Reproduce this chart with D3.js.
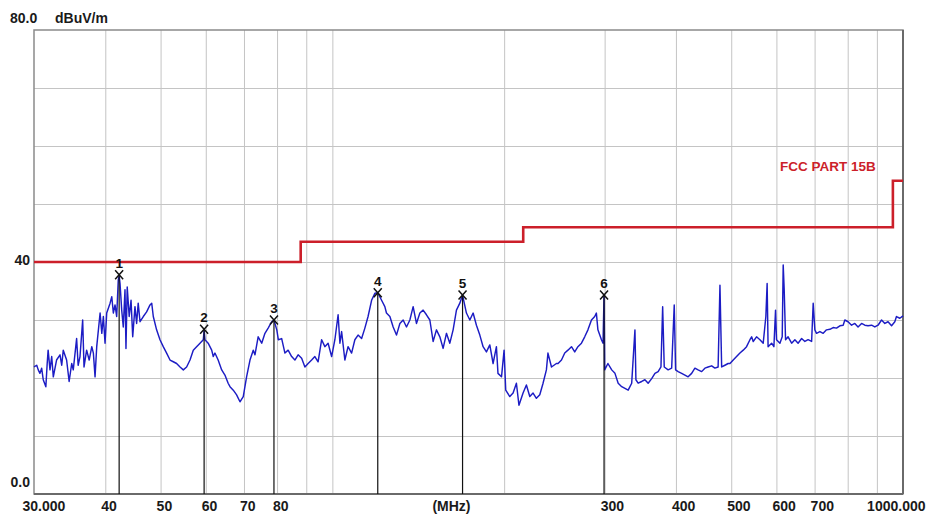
<!DOCTYPE html>
<html><head><meta charset="utf-8">
<script src="https://cdn.jsdelivr.net/npm/d3@7"></script>
<style>
html,body{margin:0;padding:0;background:#fff;}
svg{display:block;}
text{font-family:"Liberation Sans",Arial,sans-serif;font-weight:bold;}
</style></head><body>
<svg id="c" width="928" height="515"></svg>
<script>
// ---- data (frequency MHz, level dBuV/m) ----
const trace30to60 = [[30.0,21.9],[30.33,22.2],[30.52,21.4],[30.73,20.8],[30.94,21.7],[31.14,19.7],[31.47,18.5],[31.64,22.5],[31.76,24.8],[32.0,21.4],[32.22,23.7],[32.43,20.2],[32.86,23.1],[33.32,24.0],[33.55,22.2],[33.76,24.8],[34.22,23.1],[34.57,19.4],[34.93,22.5],[35.15,21.4],[35.63,26.8],[35.85,22.2],[36.12,23.7],[36.51,30.0],[36.71,21.9],[37.10,24.8],[37.48,23.1],[37.88,25.4],[38.12,24.3],[38.38,20.2],[38.64,25.4],[39.17,31.2],[39.44,27.7],[39.69,30.6],[39.96,26.0],[40.23,31.2],[40.78,32.9],[41.06,34.0],[41.32,31.2],[41.60,32.6],[41.88,30.6],[42.15,36.9],[42.3,37.6],[42.45,36.3],[42.74,31.7],[43.01,28.8],[43.31,35.2],[43.48,25.1],[43.70,35.7],[44.05,30.6],[44.38,33.4],[44.68,27.1],[45.09,32.3],[45.39,29.4],[45.68,32.9],[46.02,29.7],[46.63,30.6],[47.26,31.4],[47.91,32.6],[48.24,32.9],[48.55,30.6],[49.20,28.3],[49.88,26.6],[50.54,25.4],[51.23,24.3],[51.94,23.1],[52.63,22.8],[53.34,22.5],[54.08,21.9],[54.80,21.4],[55.54,21.9],[56.30,23.1],[57.05,24.8],[57.82,25.4],[58.62,26.0],[59.40,26.6],[59.6,28.2]];
const trace60to124 = [[59.80,26.6],[60.58,26.0],[61.45,24.8],[61.84,23.7],[62.26,24.3],[63.07,23.1],[63.98,21.4],[64.82,20.5],[65.67,19.1],[66.16,18.5],[67.04,17.9],[67.95,17.1],[68.88,15.9],[69.80,16.8],[70.74,20.2],[71.72,23.1],[72.67,24.8],[73.17,24.0],[74.12,27.1],[75.19,26.0],[76.18,27.7],[77.17,28.6],[78.28,29.7],[79.00,30.0],[79.91,28.3],[80.41,26.6],[81.50,26.8],[82.58,24.3],[83.65,24.8],[84.85,23.7],[85.97,23.1],[87.09,24.0],[88.34,23.4],[89.51,21.9],[90.68,22.5],[91.97,23.1],[93.18,23.7],[94.40,22.8],[95.76,26.6],[97.02,25.4],[98.29,26.0],[99.70,23.7],[101.02,26.6],[102.34,30.9],[103.09,26.0],[103.80,28.0],[105.17,23.1],[106.54,25.4],[108.07,24.3],[109.50,26.6],[110.93,27.4],[112.52,26.8],[114.01,28.6],[115.49,30.6],[117.15,33.4],[118.70,34.6],[120.1,34.7],[121.97,33.4],[123.58,32.3]];
const trace124to247 = [[124.40,31.2],[126.12,30.6],[127.80,28.8],[129.53,27.4],[131.31,29.4],[133.06,30.0],[134.86,28.8],[136.71,30.0],[138.53,32.3],[140.40,29.4],[142.34,31.2],[144.23,31.7],[146.18,30.9],[148.19,30.0],[150.16,26.3],[152.19,28.3],[154.29,27.1],[156.34,25.1],[158.46,27.7],[160.64,26.0],[162.78,28.3],[164.98,31.7],[167.25,32.9],[169.1,34.3],[171.77,31.2],[174.14,30.0],[176.46,31.2],[178.84,29.1],[181.30,27.4],[183.71,25.4],[186.20,24.5],[188.76,25.7],[191.27,22.5],[193.86,25.4],[195.08,20.8],[197.89,20.2],[199.95,24.8],[201.29,17.9],[204.62,16.8],[207.34,17.4],[210.15,19.1],[212.31,15.3],[215.87,17.4],[218.79,18.8],[221.80,16.8],[224.75,17.4],[227.79,16.5],[230.93,17.1],[234.00,19.1],[237.17,21.4],[238.67,24.3],[242.10,21.9],[246.93,22.5]];
const trace247to494 = [[248.6,22.5],[252.06,23.1],[255.39,24.3],[258.72,24.8],[262.43,25.4],[265.90,24.5],[269.36,25.4],[273.23,26.0],[276.84,27.1],[280.45,28.3],[284.48,30.0],[288.24,30.6],[290.16,31.2],[291.99,28.3],[296.18,26.6],[298.06,26.0],[299.3,34.3],[300.09,21.4],[304.00,22.5],[308.71,21.4],[312.78,20.8],[316.86,19.1],[321.40,18.5],[325.65,18.2],[329.89,17.9],[334.61,19.1],[339.03,28.3],[340.36,19.7],[343.45,19.1],[348.38,19.4],[352.98,19.7],[357.58,19.1],[362.73,19.9],[367.52,20.8],[372.31,21.1],[376.57,21.9],[379.15,32.3],[381.59,21.9],[387.62,21.4],[393.18,21.7],[397.28,32.6],[399.47,21.4],[403.57,21.1],[409.37,20.8],[414.77,20.5],[420.18,20.2],[426.21,20.8],[431.84,21.7],[437.47,21.4],[443.75,21.1],[449.61,21.7],[455.47,21.9],[462.04,22.1],[468.14,21.7],[474.24,21.9],[477.77,36.0],[481.07,21.9],[487.42,22.2],[493.78,22.5]];
const trace494to1000 = [[497.44,22.5],[504.06,23.1],[510.87,23.7],[517.92,24.3],[524.81,24.8],[531.91,25.4],[539.22,26.6],[542.94,27.1],[546.39,26.3],[553.78,27.1],[561.4,26.6],[568.87,26.0],[574.99,30.6],[577.96,36.3],[580.21,25.4],[588.51,26.0],[593.95,25.4],[597.92,31.7],[600.26,26.6],[608.57,26.0],[614.23,27.1],[616.66,39.5],[619.16,35.2],[622.57,26.6],[628.96,27.1],[638.00,26.0],[646.43,26.6],[654.86,26.0],[664.27,26.8],[673.05,26.3],[681.82,26.6],[691.60,26.3],[696.00,32.9],[700.73,28.3],[705.40,27.7],[715.12,28.0],[724.63,27.7],[734.43,28.3],[744.54,28.4],[754.44,28.7],[764.64,28.6],[775.18,29.0],[785.49,29.1],[790.84,30.0],[801.15,29.7],[812.63,29.1],[823.36,29.4],[834.10,28.8],[846.06,29.4],[857.23,29.1],[868.41,29.0],[880.90,29.1],[892.53,28.8],[904.17,29.1],[917.17,30.0],[929.29,29.4],[941.40,29.7],[954.90,29.0],[967.52,29.7],[973.97,30.6],[987.37,30.3],[1000,30.7]];

const limitFreqs  = [30, 88, 88, 216, 216, 960, 960, 1000];
const limitLevels = [40, 40, 43.5, 43.5, 46, 46, 54, 54];
const limitName = "FCC PART 15B";

const markerIds    = ["1","2","3","4","5","6"];
const markerFreqs  = [42.3, 59.6, 79.0, 120.1, 169.1, 299.3];
const markerLevels = [37.8, 28.4, 30.0, 34.7, 34.3, 34.3];

const xTickVals = [30,40,50,60,70,80,300,400,500,600,700,1000];
const xTickText = ["30.000","40","50","60","70","80","300","400","500","600","700","1000.000"];
const xGridVals = [40,50,60,70,80,90,100,200,300,400,500,600,700,800,900];
const yGridVals = [10,20,30,40,50,60,70];
const yTickVals = [0,40,80];
const yTickText = ["0.0","40","80.0"];
const unitY = "dBuV/m";
const unitX = "(MHz)";

// ---- drawing ----
const L = 34, R = 903, T = 30, B = 494;
const svg = d3.select("#c");
const x = d3.scaleLog().domain([30,1000]).range([L,R]);
const y = d3.scaleLinear().domain([0,80]).range([B,T]);

// grid
const gx = svg.append("g").attr("transform",`translate(0,${B})`)
  .call(d3.axisBottom(x).tickValues(xGridVals).tickSize(-(B-T)).tickFormat(""));
gx.select(".domain").remove();
gx.selectAll("line").attr("stroke","#c4c4c4").attr("stroke-width",1);
const gy = svg.append("g").attr("transform",`translate(${L},0)`)
  .call(d3.axisLeft(y).tickValues(yGridVals).tickSize(-(R-L)).tickFormat(""));
gy.select(".domain").remove();
gy.selectAll("line").attr("stroke","#c4c4c4").attr("stroke-width",1);

// frame
svg.append("rect").attr("x",L).attr("y",T).attr("width",R-L).attr("height",B-T)
  .attr("fill","none").attr("stroke","#8a8a8a").attr("stroke-width",1.5);
svg.append("line").attr("x1",L).attr("x2",R).attr("y1",B).attr("y2",B)
  .attr("stroke","#6a6a6a").attr("stroke-width",2);
svg.append("line").attr("x1",R).attr("x2",R).attr("y1",T).attr("y2",B)
  .attr("stroke","#6a6a6a").attr("stroke-width",2);

// limit line
const limitData = limitFreqs.map((f,i)=>[f,limitLevels[i]]);
svg.append("path").datum(limitData)
  .attr("d", d3.line().x(d=>x(d[0])).y(d=>y(d[1])))
  .attr("fill","none").attr("stroke","#cc1f2a").attr("stroke-width",2.6);
svg.append("text").attr("x",780).attr("y",170.5).attr("fill","#cc1f2a")
  .style("font-size","13.5px").text(limitName);

// trace
const trace = [].concat(trace30to60, trace60to124, trace124to247, trace247to494, trace494to1000);
svg.append("path").datum(trace)
  .attr("d", d3.line().x(d=>x(d[0])).y(d=>y(d[1])))
  .attr("fill","none").attr("stroke","#1c1cc4").attr("stroke-width",1.45)
  .attr("stroke-linejoin","round");

// markers
const markers = markerIds.map((id,i)=>({id, f:markerFreqs[i], v:markerLevels[i]}));
const mg = svg.append("g").selectAll("g").data(markers).join("g")
  .attr("transform", d=>`translate(${x(d.f)},0)`);
mg.append("line").attr("x1",0).attr("x2",0).attr("y1",d=>y(d.v)).attr("y2",y(0))
  .attr("stroke","#111").attr("stroke-width",1.2);
mg.append("path").attr("d", d=>{const c=y(d.v);return `M-4,${c-4.5}L4,${c+4.5}M-4,${c+4.5}L4,${c-4.5}`;})
  .attr("stroke","#111").attr("stroke-width",1.5).attr("fill","none");
mg.append("text").attr("x",0).attr("y",d=>y(d.v)-7).attr("text-anchor","middle")
  .attr("fill","#111").style("font-size","13.5px").text(d=>d.id);

// x axis labels
const ax = svg.append("g").attr("transform",`translate(0,${B})`)
  .call(d3.axisBottom(x).tickValues(xTickVals).tickSize(0).tickFormat((d,i)=>xTickText[i]));
ax.select(".domain").remove();
ax.selectAll("text").attr("y",16.5).attr("dy",null)
  .attr("fill","#1a1a1a").style("font-size","14px").style("font-family","'Liberation Sans',Arial,sans-serif").style("font-weight","bold")
  .attr("text-anchor", (d,i)=> i===xTickVals.length-1 ? "end" : "start")
  .attr("dx", (d,i)=> i===0 ? -12 : (i===xTickVals.length-1 ? 22 : -4.5));
svg.append("text").attr("x",(L+R)/2+2).attr("y",B+16.5).attr("text-anchor","end")
  .attr("fill","#1a1a1a").style("font-size","14px").text(unitX);

// y labels
const ay = svg.append("g").attr("transform",`translate(30,0)`)
  .call(d3.axisLeft(y).tickValues(yTickVals).tickSize(0).tickPadding(0).tickFormat((d,i)=>yTickText[i]));
ay.select(".domain").remove();
ay.selectAll("text").attr("dy",null)
  .attr("fill","#1a1a1a").style("font-size","14px").style("font-family","'Liberation Sans',Arial,sans-serif").style("font-weight","bold")
  .attr("y",(d)=> d===80 ? -7.5 : (d===40 ? 2 : -7.5))
  .attr("text-anchor",(d)=> d===80 ? "start" : "end")
  .attr("x",(d)=> d===80 ? -20 : 0);
svg.append("text").attr("x",55).attr("y",y(80)-7.5).attr("fill","#1a1a1a")
  .style("font-size","14px").text(unitY);
</script>
</body></html>
